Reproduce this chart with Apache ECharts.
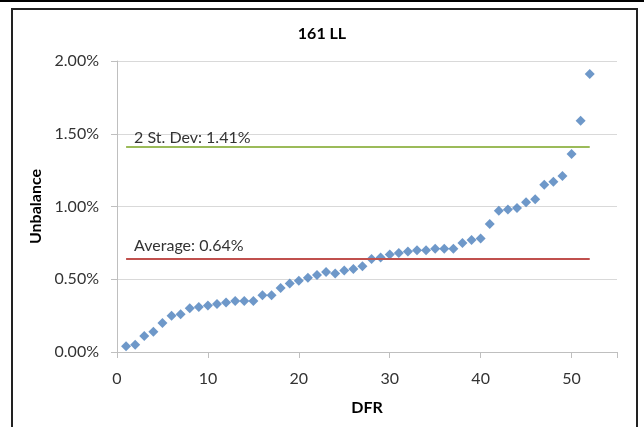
<!DOCTYPE html>
<html>
<head>
<meta charset="utf-8">
<script src="https://cdn.jsdelivr.net/npm/echarts@6/dist/echarts.min.js"></script>
<style>
  html, body { margin: 0; padding: 0; background: #fff; }
  #chart { width: 644px; height: 427px; }
</style>
</head>
<body>
<div id="chart"></div>
<script>
// DFR index 1..52, unbalance in percent
const dfr = [];
for (let i = 1; i <= 52; i++) dfr.push(i);

const unbalance = [
  0.04, 0.05, 0.11, 0.14, 0.20, 0.25, 0.26, 0.30, 0.31, 0.32,
  0.33, 0.34, 0.35, 0.35, 0.35, 0.39, 0.39, 0.44, 0.47, 0.49,
  0.51, 0.53, 0.55, 0.54, 0.56, 0.57, 0.59, 0.64, 0.65, 0.67,
  0.68, 0.69, 0.70, 0.70, 0.71, 0.71, 0.71, 0.75, 0.77, 0.78,
  0.88, 0.97, 0.98, 0.99, 1.03, 1.05, 1.15, 1.17, 1.21, 1.36,
  1.59, 1.91
];

const mediaVal = 0.64;
const desvioVal = 1.41;

const fonte = 'Lato, "Open Sans", sans-serif';
const chart = echarts.init(document.getElementById('chart'));

const pontos = dfr.map((d, i) => [d, unbalance[i]]);

chart.setOption({
  animation: false,
  textStyle: { fontFamily: fonte },
  title: {
    text: '161 LL',
    left: 'center',
    top: 21,
    textStyle: { fontFamily: fonte, fontSize: 16, fontWeight: 'bold', color: '#000' }
  },
  grid: { left: 117, right: 27, top: 61, bottom: 75 },
  xAxis: {
    type: 'value',
    min: 0,
    max: 55,
    interval: 10,
    name: 'DFR',
    nameLocation: 'middle',
    nameGap: 48,
    nameTextStyle: { fontFamily: fonte, fontSize: 16, fontWeight: 'bold', color: '#000' },
    splitLine: { show: false },
    axisLine: { lineStyle: { color: '#bfbfbf', width: 1 } },
    axisTick: { show: true, length: 6, lineStyle: { color: '#bfbfbf' } },
    axisLabel: {
      fontFamily: fonte, fontSize: 16, color: '#333', margin: 19,
      formatter: v => (v % 10 === 0 ? String(v) : '')
    }
  },
  yAxis: {
    type: 'value',
    min: 0,
    max: 2,
    interval: 0.5,
    name: 'Unbalance',
    nameLocation: 'middle',
    nameGap: 72,
    nameTextStyle: { fontFamily: fonte, fontSize: 16, fontWeight: 'bold', color: '#000' },
    axisLine: { show: true, lineStyle: { color: '#bfbfbf', width: 1 } },
    axisTick: { show: true, length: 6, lineStyle: { color: '#bfbfbf' } },
    splitLine: { lineStyle: { color: '#d9d9d9', width: 1 } },
    axisLabel: {
      fontFamily: fonte, fontSize: 16, color: '#333', margin: 18,
      formatter: v => v.toFixed(2) + '%'
    }
  },
  series: [
    {
      name: 'Unbalance',
      type: 'scatter',
      symbol: 'diamond',
      symbolSize: 10,
      itemStyle: { color: '#4a7ebb' },
      data: pontos,
      markLine: {
        silent: true,
        symbol: 'none',
        label: {
          show: true,
          position: 'insideStartTop',
          fontFamily: fonte,
          fontSize: 16,
          color: '#333'
        },
        data: [
          [
            { coord: [dfr[0], desvioVal], lineStyle: { color: '#9bbb59', width: 2, type: 'solid' },
              label: { formatter: '2 St. Dev: ' + desvioVal.toFixed(2) + '%', distance: [8, 1] } },
            { coord: [dfr[dfr.length - 1], desvioVal] }
          ],
          [
            { coord: [dfr[0], mediaVal], lineStyle: { color: '#c0504d', width: 2, type: 'solid' },
              label: { formatter: 'Average: ' + mediaVal.toFixed(2) + '%', distance: [8, 5] } },
            { coord: [dfr[dfr.length - 1], mediaVal] }
          ]
        ]
      }
    }
  ],
  graphic: [
    {
      type: 'rect',
      shape: { x: 12, y: 9, width: 625, height: 430 },
      style: { fill: 'none', stroke: '#222', lineWidth: 2 }
    },
    {
      type: 'line',
      shape: { x1: 0, y1: 1, x2: 644, y2: 1 },
      style: { stroke: '#000', lineWidth: 2 }
    }
  ]
});
</script>
</body>
</html>
